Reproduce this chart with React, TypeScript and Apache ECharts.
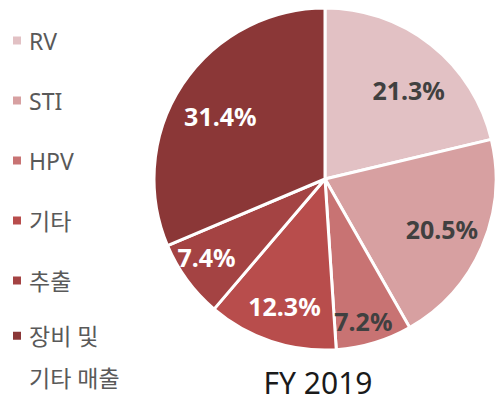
import React, { useEffect, useRef } from "react";
import * as echarts from "echarts";

const categories = ["RV", "STI", "HPV", "기타", "추출", "장비 및\n기타 매출"];
const values = [21.3, 20.5, 7.2, 12.3, 7.4, 31.4];
const labels = ["21.3%", "20.5%", "7.2%", "12.3%", "7.4%", "31.4%"];
const colors = ["#E2C1C4", "#D7A0A1", "#C87373", "#B84D4C", "#A44343", "#8B3737"];
const labelColors = ["#404040", "#404040", "#404040", "#FFFFFF", "#FFFFFF", "#FFFFFF"];
const labelDist = [122, 127, 147, 133, 142, 122];
const labelAngleShift = [5, -0.5, 1.6, -0.6, 2.8, -2.6];
const titleText = "FY 2019";

const CX = 325;
const CY = 179;
const R = 171;

export default function App() {
  const ref = useRef<HTMLDivElement>(null);
  useEffect(() => {
    if (!ref.current) return;
    const chart = echarts.init(ref.current, null, { renderer: "svg" });
    const font = "'Noto Sans', 'Noto Sans CJK KR', sans-serif";
    const legendText = {
      fontFamily: font,
      fontSize: 23,
      color: "#595959",
      lineHeight: 42,
      padding: [0, 0, 0, 2],
    };
    const total = values.reduce((a, b) => a + b, 0);
    const mids: number[] = [];
    let acc = 0;
    values.forEach((v) => {
      mids.push(((acc + v / 2) / total) * 360);
      acc += v;
    });
    chart.setOption({
      animation: false,
      title: {
        text: titleText,
        left: 318,
        textAlign: "center",
        top: 367,
        padding: 0,
        textStyle: {
          fontFamily: font,
          fontSize: 30,
          lineHeight: 30,
          fontWeight: "normal",
          color: "#1A1A1A",
        },
      },
      legend: [
        {
          orient: "vertical",
          left: 11,
          top: 19.5,
          padding: 0,
          itemWidth: 10,
          itemHeight: 10,
          itemGap: 18,
          icon: "rect",
          selectedMode: false,
          data: categories.slice(0, 5),
          textStyle: legendText,
        },
        {
          orient: "vertical",
          left: 11,
          top: 314.7,
          padding: 0,
          itemWidth: 10,
          itemHeight: 52,
          icon: "path://M0,0L10,0L10,10L0,10ZM0,52",
          selectedMode: false,
          data: categories.slice(5),
          textStyle: legendText,
        },
      ],
      series: [
        {
          type: "pie",
          center: [CX, CY],
          radius: [0, R],
          startAngle: 90,
          clockwise: true,
          silent: true,
          itemStyle: { borderColor: "#FFFFFF", borderWidth: 3 },
          label: {
            show: true,
            position: "inside",
            fontFamily: font,
            fontSize: 25,
            fontWeight: "bold",
            formatter: (p: any) => labels[p.dataIndex],
          },
          labelLine: { show: false },
          emphasis: { disabled: true },
          labelLayout: (p: any) => {
            const r = p.labelRect;
            const lx = r.x + r.width / 2;
            const ly = r.y + r.height / 2;
            const i = p.dataIndex;
            const th = ((mids[i] + labelAngleShift[i]) * Math.PI) / 180;
            const tx = CX + labelDist[i] * Math.sin(th);
            const ty = CY - labelDist[i] * Math.cos(th);
            return { dx: tx - lx, dy: ty - ly };
          },
          data: categories.map((c, i) => ({
            name: c,
            value: values[i],
            itemStyle: { color: colors[i] },
            label: { color: labelColors[i] },
          })),
        },
      ],
    });
    return () => chart.dispose();
  }, []);
  return (
    <div
      ref={ref}
      style={{ position: "fixed", left: 0, top: 0, width: 496, height: 401, background: "#FFFFFF" }}
    />
  );
}
